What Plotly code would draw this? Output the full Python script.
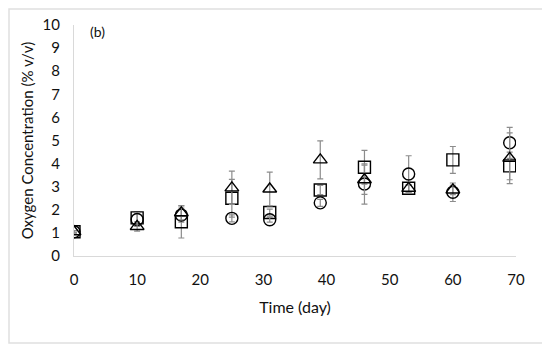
import plotly.graph_objects as go

days = [0, 10, 17, 25, 31, 39, 46, 53, 60, 69]
square = [1.05, 1.65, 1.48, 2.50, 1.88, 2.86, 3.84, 2.93, 4.16, 3.90]
square_err = [0.05, 0.25, 0.70, 0.82, 0.15, 0.20, 0.73, 0.15, 0.58, 0.60]
circle = [1.05, 1.58, 1.77, 1.63, 1.57, 2.30, 3.12, 3.55, 2.76, 4.90]
circle_err = [0.05, 0.30, 0.30, 0.15, 0.10, 0.15, 0.87, 0.79, 0.40, 0.67]
triangle = [1.05, 1.28, 1.87, 2.95, 2.90, 4.16, 3.30, 2.93, 2.86, 4.23]
triangle_err = [0.05, 0.20, 0.30, 0.72, 0.73, 0.82, 0.63, 0.15, 0.20, 1.10]

x_ticks = [0, 10, 20, 30, 40, 50, 60, 70]
y_ticks = list(range(0, 11))

fig = go.Figure()

def add(vals, errs, symbol, name):
    fig.add_trace(go.Scatter(
        x=days, y=vals, mode="markers", name=name,
        marker=dict(symbol=symbol, size=12, color="black",
                    line=dict(color="black", width=1.4)),
        error_y=dict(type="data", array=errs, visible=True,
                     color="#8c8c8c", thickness=1.2, width=3),
        showlegend=False,
    ))

add(square, square_err, "square-open", "Square")
add(circle, circle_err, "circle-open", "Circle")
add(triangle, triangle_err, "triangle-up-open", "Triangle")

font = "Lato, 'Open Sans', sans-serif"
tc = "#111111"

# page body has an 8px margin; figure is sized to fit the 550x347 window
L, R, T, B = 66, 34, 17, 91
W, H = 542, 339
pw, ph = W - L - R, H - T - B

fig.update_layout(
    width=W, height=H,
    margin=dict(l=L, r=R, t=T, b=B, autoexpand=False),
    paper_bgcolor="white", plot_bgcolor="white",
    font=dict(family=font, size=15, color=tc),
    xaxis=dict(range=[0, 70], tickvals=x_ticks, showgrid=False, zeroline=False,
               showline=True, linecolor="#d9d9d9", linewidth=1.2, automargin=False,
               ticks="outside", ticklen=10, tickcolor="rgba(0,0,0,0)",
               title=dict(text="Time (day)", standoff=14,
                          font=dict(family=font, size=16, color=tc))),
    yaxis=dict(range=[0, 10], tickvals=y_ticks, showgrid=False, zeroline=False,
               showline=True, linecolor="#d9d9d9", linewidth=1.2, automargin=False,
               ticks="outside", ticklen=10, tickcolor="rgba(0,0,0,0)",
               title=dict(text="Oxygen Concentration (% v/v)", standoff=5,
                          font=dict(family=font, size=15, color=tc))),
    annotations=[dict(x=2.2, y=9.7, xref="x", yref="y", text="(b)",
                      showarrow=False, xanchor="left", yanchor="middle",
                      font=dict(family=font, size=14, color=tc))],
    shapes=[dict(type="rect", xref="paper", yref="paper",
                 x0=(1 - L) / pw, x1=(535 - L) / pw,
                 y0=((T + ph) - 335) / ph, y1=((T + ph) - 1) / ph,
                 line=dict(color="#e0e0e0", width=1.5), layer="below")],
)

fig.write_html("out.html")
